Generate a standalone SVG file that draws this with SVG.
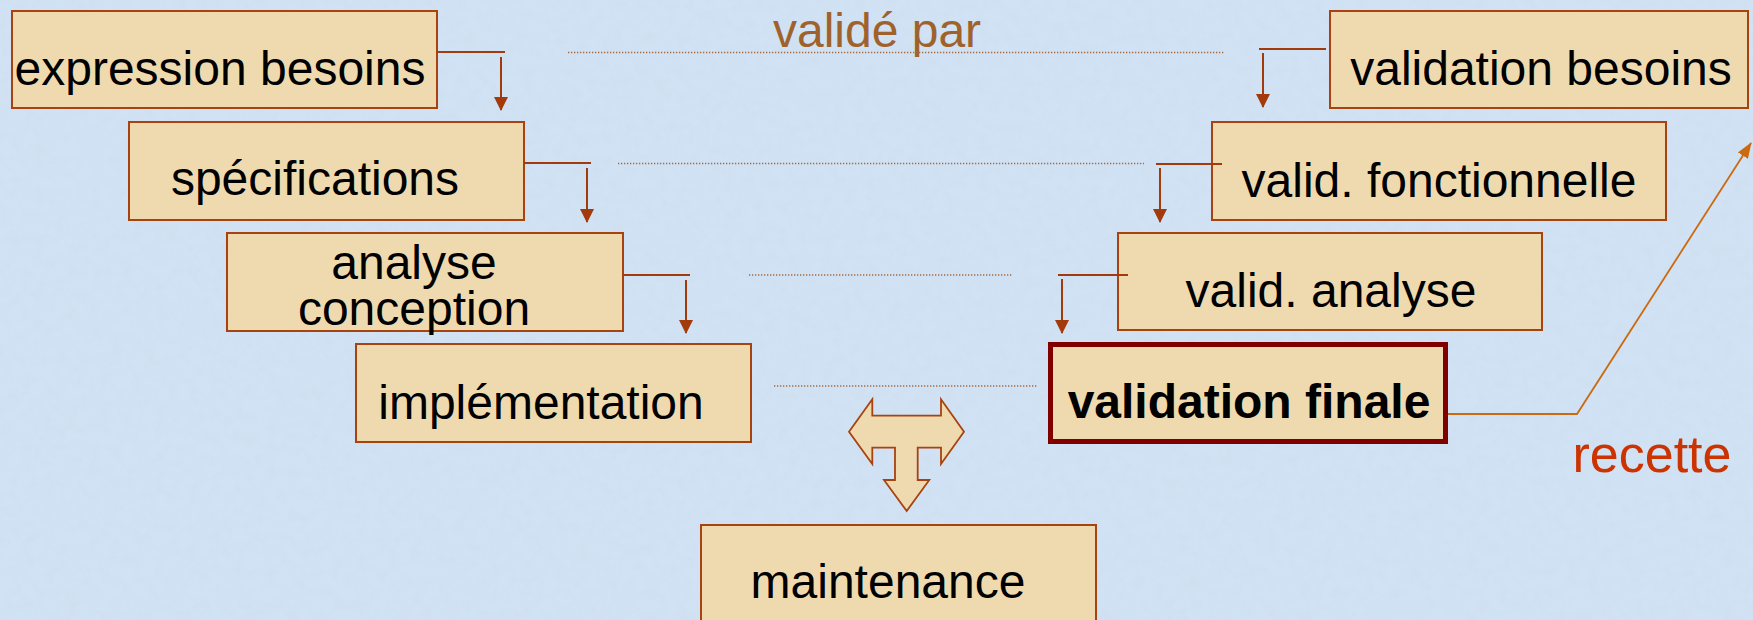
<svg xmlns="http://www.w3.org/2000/svg" width="1753" height="620" viewBox="0 0 1753 620">
  <style>
    .box { fill: #efdab0; stroke: #a8420e; stroke-width: 2; }
    .final { fill: #efdab0; stroke: #800000; stroke-width: 5; }
    .lbl { font-family: "Liberation Sans", Arial, Helvetica, sans-serif; font-size: 48px; fill: #000; text-anchor: middle; }
    .bold { font-weight: bold; }
    .link { fill: none; stroke: #a33a0c; stroke-width: 2; }
    .dots { fill: none; stroke: #a8683a; stroke-width: 1.3; stroke-dasharray: 1.3 1.7; }
    .note { font-family: "Liberation Sans", Arial, Helvetica, sans-serif; text-anchor: middle; }
  </style>
  <defs>
    <marker id="head" markerUnits="userSpaceOnUse" markerWidth="14" markerHeight="14" refX="13" refY="7" orient="auto">
      <path d="M0,0 L14,7 L0,14 z" fill="#a33a0c"/>
    </marker>
    <marker id="headOrange" markerUnits="userSpaceOnUse" markerWidth="16" markerHeight="14" refX="15" refY="7" orient="auto">
      <path d="M0,1 L16,7 L0,13 z" fill="#cc6a10"/>
    </marker>
    <filter id="grain" x="0" y="0" width="100%" height="100%">
      <feTurbulence type="fractalNoise" baseFrequency="0.09" numOctaves="3" seed="7"/>
      <feColorMatrix type="matrix" values="0 0 0 0 0.62  0 0 0 0 0.70  0 0 0 0 0.80  0.9 0 0 0 -0.35"/>
    </filter>
  </defs>

  <!-- marbled light-blue backdrop -->
  <rect x="0" y="0" width="1753" height="620" fill="#d0e2f4"/>
  <rect x="0" y="0" width="1753" height="620" filter="url(#grain)" opacity="0.7"/>

  <!-- "validé par" level guides -->
  <g id="guides">
    <text class="note" x="877" y="47" font-size="48" fill="#a0622c">validé par</text>
    <line class="dots" x1="568" y1="52.5" x2="1224" y2="52.5"/>
    <line class="dots" x1="618" y1="163.5" x2="1144" y2="163.5"/>
    <line class="dots" x1="749" y1="275" x2="1012" y2="275"/>
    <line class="dots" x1="774" y1="386" x2="1037" y2="386"/>
  </g>

  <!-- development side -->
  <g id="expression-besoins">
    <rect class="box" x="12" y="11" width="425" height="97"/>
    <text class="lbl" x="220" y="85">expression besoins</text>
  </g>
  <g id="specifications">
    <rect class="box" x="129" y="122" width="395" height="98"/>
    <text class="lbl" x="315" y="195">spécifications</text>
  </g>
  <g id="analyse-conception">
    <rect class="box" x="227" y="233" width="396" height="98"/>
    <text class="lbl" x="414" y="279">analyse<tspan x="414" dy="46">conception</tspan></text>
  </g>
  <g id="implementation">
    <rect class="box" x="356" y="344" width="395" height="98"/>
    <text class="lbl" x="541" y="419">implémentation</text>
  </g>

  <!-- validation side -->
  <g id="validation-besoins">
    <rect class="box" x="1330" y="11" width="418" height="97"/>
    <text class="lbl" x="1541" y="85">validation besoins</text>
  </g>
  <g id="valid-fonctionnelle">
    <rect class="box" x="1212" y="122" width="454" height="98"/>
    <text class="lbl" x="1439" y="197">valid. fonctionnelle</text>
  </g>
  <g id="valid-analyse">
    <rect class="box" x="1118" y="233" width="424" height="97"/>
    <text class="lbl" x="1331" y="307">valid. analyse</text>
  </g>
  <g id="validation-finale">
    <rect class="final" x="1050.5" y="344.5" width="395" height="97"/>
    <text class="lbl bold" x="1249" y="418">validation finale</text>
  </g>

  <g id="maintenance">
    <rect class="box" x="701" y="525" width="395" height="100"/>
    <text class="lbl" x="888" y="598">maintenance</text>
  </g>

  <!-- three-way arrow towards maintenance -->
  <g id="fork">
    <path d="M849,431.7 L872.3,399.3 L872.3,415.7 L941,415.7 L941,399.3 L964,431.7 L941,464 L941,447.7 L917.7,447.7 L917.7,480 L929.3,480 L906.7,511 L884,480 L895,480 L895,447.7 L872.3,447.7 L872.3,464 Z" fill="#efdab0" stroke="#a8420e" stroke-width="1.8" stroke-linejoin="miter"/>
  </g>

  <!-- cascade connectors -->
  <g id="connectors">
    <polyline class="link" points="437,52 505,52"/>
    <line class="link" x1="501" y1="57" x2="501" y2="110" marker-end="url(#head)"/>
    <polyline class="link" points="524,163 591,163"/>
    <line class="link" x1="587" y1="168" x2="587" y2="222" marker-end="url(#head)"/>
    <polyline class="link" points="623,275 690,275"/>
    <line class="link" x1="686" y1="280" x2="686" y2="333" marker-end="url(#head)"/>

    <polyline class="link" points="1259,49 1326,49"/>
    <line class="link" x1="1263" y1="53" x2="1263" y2="107" marker-end="url(#head)"/>
    <polyline class="link" points="1156,164 1222,164"/>
    <line class="link" x1="1160" y1="168" x2="1160" y2="222" marker-end="url(#head)"/>
    <polyline class="link" points="1058,275 1128,275"/>
    <line class="link" x1="1062" y1="279" x2="1062" y2="333" marker-end="url(#head)"/>

    <polyline points="1448,414 1577,414 1751,143" fill="none" stroke="#cc6a10" stroke-width="1.8" marker-end="url(#headOrange)"/>
  </g>

  <text class="note" x="1652" y="472" font-size="52" fill="#cc3300">recette</text>
</svg>
